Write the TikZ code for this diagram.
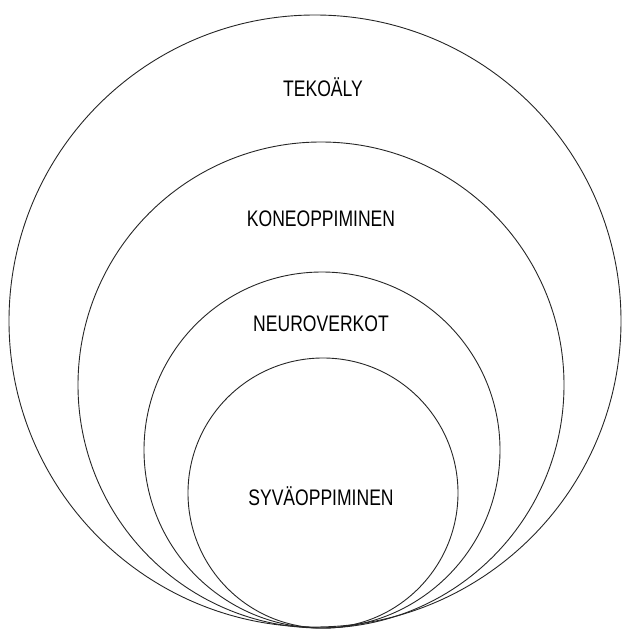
\documentclass[tikz,border=0pt]{standalone}
\usepackage{fontspec}
\newfontfamily\xk[FakeStretch=0.78]{Liberation Sans}
\begin{document}
\begin{tikzpicture}[x=1pt,y=-1pt,
  ring/.style={draw=black!85, line width=0.9pt},
  lab/.style={font=\xk\fontsize{22.5}{26}\selectfont, inner sep=0pt, anchor=base}]
\useasboundingbox (0,0) rectangle (622,629);
\draw[ring] (315,321) circle[radius=306];
\draw[ring] (321,385) circle[radius=243];
\draw[ring] (322,450) circle[radius=178];
\draw[ring] (323,493) circle[radius=135];
\node[lab] (tekoaly) at (323,96) {TEKOÄLY};
\node[lab] (kone) at (321,226) {KONEOPPIMINEN};
\node[lab] (neuro) at (321,331) {NEUROVERKOT};
\node[lab] (syva) at (321,505) {SYVÄOPPIMINEN};
\end{tikzpicture}
\end{document}
